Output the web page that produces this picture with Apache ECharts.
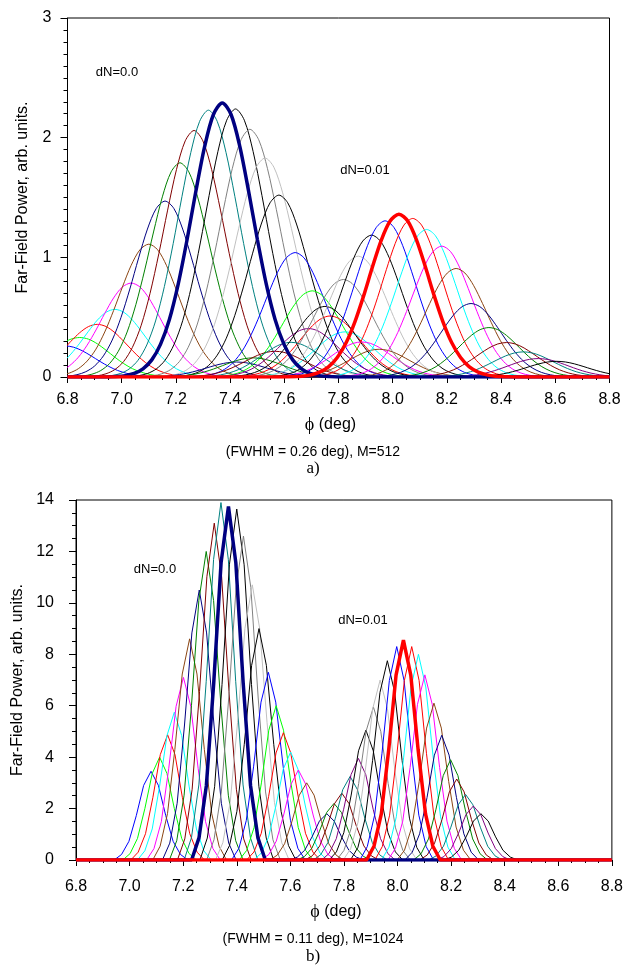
<!DOCTYPE html>
<html>
<head>
<meta charset="utf-8">
<script src="https://cdn.jsdelivr.net/npm/echarts@6/dist/echarts.min.js"></script>
<style>
html,body{margin:0;padding:0;background:#fff;}
#chart{width:626px;height:969px;}
</style>
</head>
<body>
<div id="chart"></div>
<script>
// ---------------- data ----------------
const phiRange = [6.8, 8.8];           // x axis range (deg)
const yMaxA = 3, yMaxB = 14;
const fwhmA = 0.26, fwhmB = 0.11;      // beam widths given in the captions

// panel a) M=512, family dN=0.0  (peak positions, deg) and peak powers
const centersA0 = [6.79, 6.845, 6.91, 6.975, 7.035, 7.10, 7.16, 7.215, 7.267, 7.32, 7.371, 7.42, 7.473, 7.529, 7.58, 7.64, 7.703, 7.769, 7.824, 7.886, 7.95];
const heightsA0 = [0.26, 0.33, 0.44, 0.565, 0.785, 1.11, 1.47, 1.79, 2.06, 2.23, 2.29, 2.24, 2.07, 1.83, 1.52, 1.04, 0.72, 0.51, 0.377, 0.293, 0.232];
// panel a) family dN=0.01
const centersA1 = [7.424, 7.485, 7.566, 7.625, 7.689, 7.75, 7.818, 7.873, 7.922, 7.972, 8.023, 8.074, 8.125, 8.181, 8.234, 8.289, 8.355, 8.42, 8.482, 8.537, 8.605];
const heightsA1 = [0.125, 0.16, 0.215, 0.29, 0.405, 0.59, 0.815, 1.01, 1.186, 1.305, 1.36, 1.325, 1.233, 1.094, 0.907, 0.614, 0.413, 0.288, 0.21, 0.154, 0.131];

// panel b) M=1024, family dN=0.0
const centersB0 = [7.08, 7.112, 7.142, 7.167, 7.201, 7.224, 7.26, 7.286, 7.316, 7.341, 7.369, 7.40, 7.425, 7.458, 7.483, 7.518, 7.547, 7.574, 7.601, 7.63, 7.661];
const heightsB0 = [3.45, 4.0, 4.87, 5.75, 7.1, 8.6, 10.5, 12.0, 13.1, 13.9, 13.75, 13.65, 12.6, 10.7, 9.0, 7.3, 6.0, 4.95, 4.2, 3.5, 3.0];
// panel b) family dN=0.01
const centersB1 = [7.736, 7.763, 7.792, 7.823, 7.854, 7.882, 7.91, 7.935, 7.962, 7.997, 8.022, 8.053, 8.078, 8.102, 8.136, 8.165, 8.198, 8.221, 8.254, 8.283, 8.311];
const heightsB1 = [1.8, 2.2, 2.6, 3.25, 3.95, 5.05, 5.95, 7.0, 7.75, 8.3, 8.55, 8.3, 8.0, 7.2, 6.1, 4.85, 3.9, 3.15, 2.55, 2.1, 1.8];

// beam profile (relative power vs offset in units of FWHM; half power at 0.5 FWHM)
const profileU     = [0, 0.125, 0.25, 0.375, 0.5, 0.625, 0.75, 0.875, 1.0, 1.125, 1.25, 1.375, 1.5, 1.75];
const profileLevel = [1, 0.958, 0.841, 0.677, 0.5, 0.339, 0.210, 0.120, 0.0625, 0.030, 0.013, 0.005, 0.002, 0];
// coarser sampling used in panel b (the sampled curve drops to zero after the last sample)
const profileUB     = [0, 0.25, 0.5, 0.75, 1.0, 1.25];
const profileLevelB = [1, 0.841, 0.5, 0.210, 0.0625, 0];

const highlightIndex = 10;   // beam drawn thick in each family

// ---------------- styles ----------------
const palette = ['#0000ff', '#00ff00', '#ff0000', '#00ffff', '#ff00ff', '#8b4513', '#000080', '#008000',
                 '#800000', '#008080', '#800080', '#000000', '#808080', '#c0c0c0', '#000000'];
const FONT = 'Liberation Sans, Arial, sans-serif';

function curve(c, h, fwhm, U, L) {
  const pts = [];
  for (let i = U.length - 1; i >= 1; i--) pts.push([c - U[i] * fwhm, h * L[i]]);
  for (let i = 0; i < U.length; i++) pts.push([c + U[i] * fwhm, h * L[i]]);
  if (pts[0][0] > phiRange[0]) pts.unshift([phiRange[0], 0]);
  if (pts[pts.length - 1][0] < phiRange[1]) pts.push([phiRange[1], 0]);
  return pts;
}

function family(centers, heights, fwhm, U, L, axis, paletteStart, thickColor, smooth) {
  const thin = [], thick = [];
  centers.forEach((c, i) => {
    const isHi = i === highlightIndex;
    const s = {
      type: 'line', xAxisIndex: axis, yAxisIndex: axis,
      data: curve(c, heights[i], fwhm, U, L),
      showSymbol: false, symbol: 'none', silent: true,
      smooth: smooth, clip: true,
      lineStyle: { color: isHi ? thickColor : palette[(paletteStart + i) % palette.length], width: isHi ? 3.5 : 1 },
      z: isHi ? 5 : 2
    };
    (isHi ? thick : thin).push(s);
  });
  return { thin, thick };
}

const fa0 = family(centersA0, heightsA0, fwhmA, profileU, profileLevel, 0, 0, '#000080', 0.3);
const fa1 = family(centersA1, heightsA1, fwhmA, profileU, profileLevel, 0, 6, '#ff0000', 0.3);
const fb0 = family(centersB0, heightsB0, fwhmB, profileUB, profileLevelB, 1, 0, '#000080', false);
const fb1 = family(centersB1, heightsB1, fwhmB, profileUB, profileLevelB, 1, 6, '#ff0000', false);

function xAxisCfg(idx, labelMargin, nameGap) {
  return {
    gridIndex: idx, type: 'value', min: phiRange[0], max: phiRange[1], interval: 0.2,
    axisLine: { show: true, onZero: false, lineStyle: { color: '#000', width: 1 } },
    axisTick: { show: true, inside: false, length: 6, lineStyle: { color: '#000' } },
    minorTick: { show: true, splitNumber: 4, length: 3, lineStyle: { color: '#000' } },
    splitLine: { show: false }, minorSplitLine: { show: false },
    axisLabel: { color: '#000', fontSize: 16, fontFamily: FONT, margin: labelMargin,
                 showMinLabel: true, showMaxLabel: true, formatter: v => v.toFixed(1) },
    name: '{phi|ϕ} (deg)', nameLocation: 'middle', nameGap: nameGap,
    nameTextStyle: { color: '#000', fontSize: 16, fontFamily: FONT, padding: [0, 16, 0, 0],
                     rich: { phi: { fontFamily: 'Liberation Serif, serif', fontSize: 18, color: '#000' } } }
  };
}
function yAxisCfg(idx, max, interval, minorSplit, labelMargin, nameGap) {
  return {
    gridIndex: idx, type: 'value', min: 0, max: max, interval: interval,
    axisLine: { show: true, lineStyle: { color: '#000', width: 1 } },
    axisTick: { show: true, inside: false, length: 7, lineStyle: { color: '#000' } },
    minorTick: { show: true, splitNumber: minorSplit, length: 4, lineStyle: { color: '#000' } },
    splitLine: { show: false }, minorSplitLine: { show: false },
    axisLabel: { color: '#000', fontSize: 16, fontFamily: FONT, margin: labelMargin },
    name: 'Far-Field Power, arb. units.', nameLocation: 'middle', nameGap: nameGap,
    nameTextStyle: { color: '#000', fontSize: 16, fontFamily: FONT }
  };
}

function txt(text, x, y, size, family) {
  return { type: 'text', x: x, y: y, silent: true,
           style: { text: text, fill: '#000', font: size + 'px ' + (family || FONT), align: 'center', verticalAlign: 'middle' } };
}

const option = {
  animation: false,
  backgroundColor: '#ffffff',
  grid: [
    { left: 67.5, top: 18, width: 542, height: 359, show: true, borderColor: '#000', borderWidth: 1, backgroundColor: 'transparent' },
    { left: 76, top: 500, width: 536, height: 360, show: true, borderColor: '#000', borderWidth: 1, backgroundColor: 'transparent' }
  ],
  xAxis: [xAxisCfg(0, 15, 39), xAxisCfg(1, 19, 43)],
  yAxis: [yAxisCfg(0, yMaxA, 1, 10, 16, 37), yAxisCfg(1, yMaxB, 2, 4, 22, 46)],
  series: [].concat(fa0.thin, fa1.thin, fb0.thin, fb1.thin, fa0.thick, fa1.thick, fb0.thick, fb1.thick),
  graphic: [
    txt('dN=0.0', 117, 72, 13),
    txt('dN=0.01', 365, 170, 13),
    txt('dN=0.0', 155, 569, 13),
    txt('dN=0.01', 363, 620, 13),
    txt('(FWHM = 0.26 deg), M=512', 313, 452, 14),
    txt('a)', 313, 469, 17, 'Liberation Serif, serif'),
    txt('(FWHM = 0.11 deg), M=1024', 313, 939, 14),
    txt('b)', 313, 957, 17, 'Liberation Serif, serif')
  ]
};

const chart = echarts.init(document.getElementById('chart'), null, { renderer: 'canvas' });
chart.setOption(option);
</script>
</body>
</html>
